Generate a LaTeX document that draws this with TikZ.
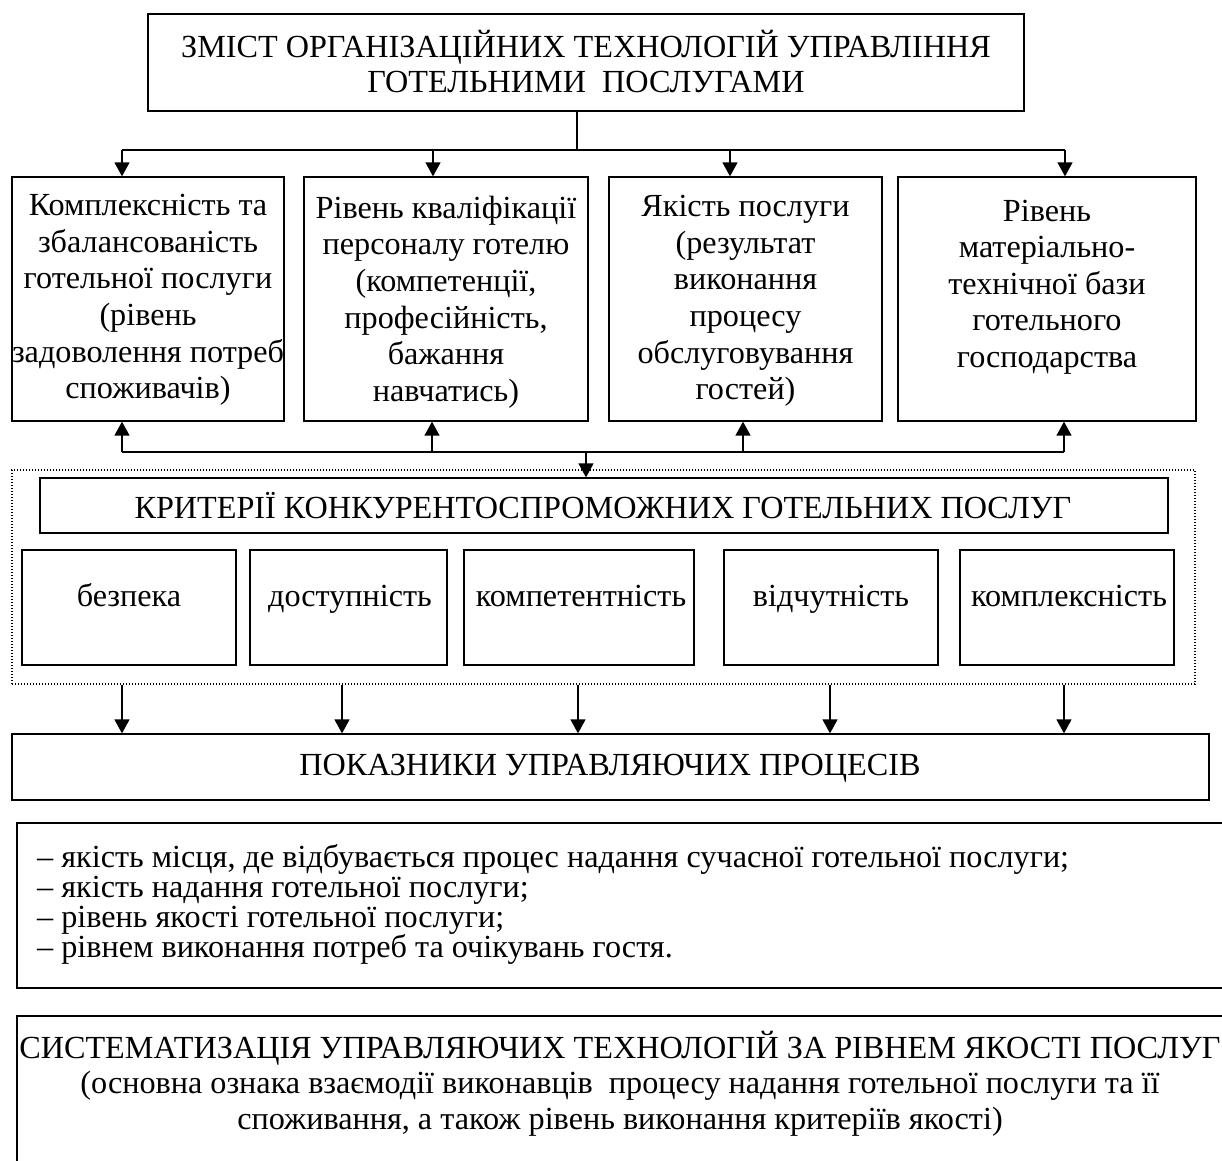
\documentclass[tikz,border=0pt]{standalone}
\usepackage{fontspec}
\setmainfont{Liberation Serif}
\usetikzlibrary{arrows.meta}
\begin{document}
\begin{tikzpicture}[x=1pt,y=-1pt,
  box/.style={draw, line width=1.3pt, rectangle, inner sep=0pt},
  dotbox/.style={draw, line width=1.1pt, dash pattern=on 1.2pt off 1.8pt, rectangle, inner sep=0pt},
  txt/.style={font=\fontsize{32.2}{36.6}\selectfont, align=center, inner sep=0pt},
  arr/.style={line width=1.4pt, -{Triangle[width=15pt,length=14pt]}},
  ln/.style={line width=1.4pt}]
\useasboundingbox (0,0) rectangle (1222,1160);
\clip (0,0) rectangle (1222,1160);
\fill[white] (0,0) rectangle (1222,1160);

% top box
\node[box, minimum width=876, minimum height=97] (top) at (586,62.5) {};
\node[txt, anchor=base] (topl1) at (586,57) {ЗМІСТ ОРГАНІЗАЦІЙНИХ ТЕХНОЛОГІЙ УПРАВЛІННЯ};
\node[txt, anchor=base] (topl2) at (586,92) {ГОТЕЛЬНИМИ\ \ ПОСЛУГАМИ};

% first row
\node[box, minimum width=272, minimum height=244] (b1) at (148,299) {};
\node[box, minimum width=284, minimum height=244] (b2) at (446,299) {};
\node[box, minimum width=273, minimum height=244] (b3) at (745.5,299) {};
\node[box, minimum width=298, minimum height=244] (b4) at (1047,299) {};
\node[txt] (b1t) at (148,300) {Комплексність та\\збалансованість\\готельної послуги\\(рівень\\задоволення потреб\\споживачів)};
\node[txt] (b2t) at (446,302) {Рівень кваліфікації\\персоналу готелю\\(компетенції,\\професійність,\\бажання\\навчатись)};
\node[txt] (b3t) at (745.5,301) {Якість послуги\\(результат\\виконання\\процесу\\обслуговування\\гостей)};
\node[txt] (b4t) at (1047,287) {Рівень\\матеріально-\\технічної бази\\готельного\\господарства};

% connectors top -> row
\coordinate (tj) at (577,150);
\coordinate (d1) at (122,150);
\coordinate (d2) at (433,150);
\coordinate (d3) at (730,150);
\coordinate (d4) at (1065,150);
\draw[ln] (top.south -| tj) -- (tj);
\draw[ln] (d1) -- (d4);
\draw[arr] (d1) -- (d1 |- b1.north);
\draw[arr] (d2) -- (d2 |- b2.north);
\draw[arr] (d3) -- (d3 |- b3.north);
\draw[arr] (d4) -- (d4 |- b4.north);

% criteria group
\node[dotbox, minimum width=1183, minimum height=214] (grp) at (603.5,577) {};
\node[box, minimum width=1128, minimum height=55] (crit) at (604,505.5) {};
\node[txt, anchor=base] (critt) at (603,518) {КРИТЕРІЇ КОНКУРЕНТОСПРОМОЖНИХ ГОТЕЛЬНИХ ПОСЛУГ};
\node[box, minimum width=214, minimum height=115] (s1) at (129,607.5) {};
\node[box, minimum width=197, minimum height=115] (s2) at (348.5,607.5) {};
\node[box, minimum width=230, minimum height=115] (s3) at (579,607.5) {};
\node[box, minimum width=214, minimum height=115] (s4) at (831,607.5) {};
\node[box, minimum width=214, minimum height=115] (s5) at (1067,607.5) {};
\node[txt, anchor=base] (s1t) at (129,606) {безпека};
\node[txt, anchor=base] (s2t) at (350,606) {доступність};
\node[txt, anchor=base] (s3t) at (581,606) {компетентність};
\node[txt, anchor=base] (s4t) at (831,606) {відчутність};
\node[txt, anchor=base] (s5t) at (1069,606) {комплексність};

% connectors row -> criteria
\coordinate (u1) at (122,452);
\coordinate (u2) at (432,452);
\coordinate (u3) at (743,452);
\coordinate (u4) at (1064,452);
\coordinate (um) at (586,452);
\draw[ln] (u1) -- (u4);
\draw[arr] (u1) -- (u1 |- b1.south);
\draw[arr] (u2) -- (u2 |- b2.south);
\draw[arr] (u3) -- (u3 |- b3.south);
\draw[arr] (u4) -- (u4 |- b4.south);
\draw[arr] (um) -- (um |- crit.north);

% indicators
\node[box, minimum width=1197, minimum height=66] (ind) at (610.5,767) {};
\node[txt, anchor=base] (indt) at (610,775) {ПОКАЗНИКИ УПРАВЛЯЮЧИХ ПРОЦЕСІВ};
\coordinate (e1) at (122,684);
\coordinate (e2) at (342,684);
\coordinate (e3) at (578,684);
\coordinate (e4) at (830,684);
\coordinate (e5) at (1064,684);
\draw[arr] (e1 |- grp.south) -- (e1 |- ind.north);
\draw[arr] (e2 |- grp.south) -- (e2 |- ind.north);
\draw[arr] (e3 |- grp.south) -- (e3 |- ind.north);
\draw[arr] (e4 |- grp.south) -- (e4 |- ind.north);
\draw[arr] (e5 |- grp.south) -- (e5 |- ind.north);

% list box
\node[box, minimum width=1223, minimum height=165] (list) at (628.5,905.5) {};
\node[txt, anchor=base west] (li1) at (37,867.5) {– якість місця, де відбувається процес надання сучасної готельної послуги;};
\node[txt, anchor=base west] (li2) at (37,897.5) {– якість надання готельної послуги;};
\node[txt, anchor=base west] (li3) at (37,927.5) {– рівень якості готельної послуги;};
\node[txt, anchor=base west] (li4) at (37,957.5) {– рівнем виконання потреб та очікувань гостя.};

% systematisation box
\node[box, minimum width=1223, minimum height=200] (sys) at (628.5,1116) {};
\node[txt, anchor=base] (sys1) at (620,1058) {СИСТЕМАТИЗАЦІЯ УПРАВЛЯЮЧИХ ТЕХНОЛОГІЙ ЗА РІВНЕМ ЯКОСТІ ПОСЛУГ};
\node[txt, anchor=base] (sys2) at (620,1093) {(основна ознака взаємодії виконавців\ \ процесу надання готельної послуги та її};
\node[txt, anchor=base] (sys3) at (620,1129) {споживання, а також рівень виконання критеріїв якості)};
\end{tikzpicture}
\end{document}
